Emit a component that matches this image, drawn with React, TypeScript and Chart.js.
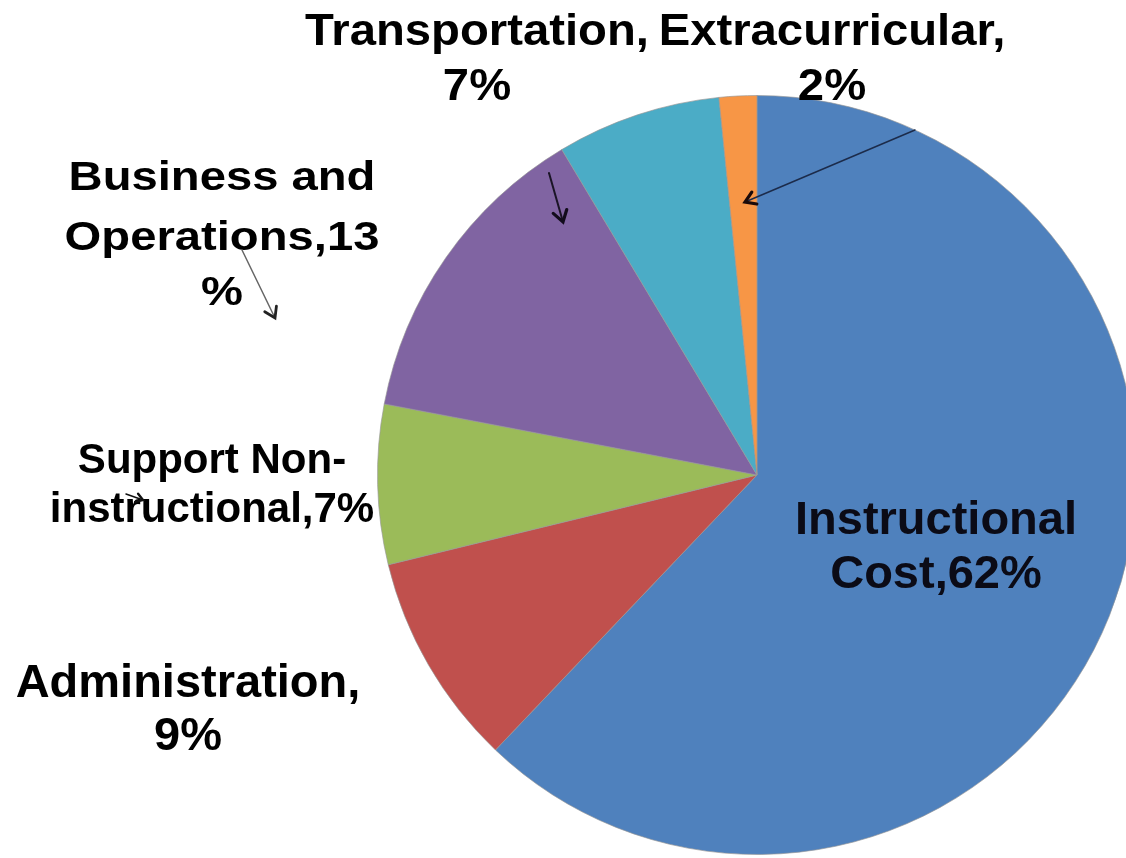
import React, { useEffect, useRef } from "react";
import { Chart, registerables } from "chart.js";

Chart.register(...registerables);

// ---- Data ----
const categories = [
  "Instructional Cost",
  "Administration",
  "Support Non-instructional",
  "Business and Operations",
  "Transportation",
  "Extracurricular",
];
// slice sizes (labels show the rounded percentages)
const shares = [62.1, 9.1, 6.8, 13.4, 7.0, 1.6];
const sliceColors = ["#4F81BD", "#C0504D", "#9BBB59", "#8064A2", "#4BACC6", "#F79646"];

// Label text, line by line (as broken in the original)
const labelLines = [
  ["Instructional", "Cost,62%"],
  ["Administration,", "9%"],
  ["Support Non-", "instructional,7%"],
  ["Business and", "Operations,13", "%"],
  ["Transportation,", "7%"],
  ["Extracurricular,", "2%"],
];

// ---- Layout (decoration only) ----
const labelLayout = [
  { x: 936, ys: [534, 588], size: 47, sx: 1.0, color: "#0b0b16" },
  { x: 188, ys: [697, 750], size: 47, sx: 1.0, color: "#000" },
  { x: 212, ys: [473, 522], size: 42, sx: 1.0, color: "#000" },
  { x: 222, ys: [190, 250, 305], size: 40, sx: 1.18, color: "#000" },
  { x: 477, ys: [45, 100], size: 45, sx: 1.05, color: "#000" },
  { x: 832, ys: [45, 100], size: 45, sx: 1.05, color: "#000" },
];

const arrowLayout = [
  { from: [915, 130], to: [745, 202], color: "#1c2b4a", headColor: "#1a0a0a", width: 1.5, head: 12, headWidth: 3.2 },
  { from: [549, 173], to: [563, 222], color: "#1a1426", headColor: "#120c1c", width: 2, head: 13, headWidth: 3.2 },
  { from: [242, 250], to: [275, 318], color: "#666", headColor: "#222", width: 1.5, head: 12, headWidth: 2.8 },
  { from: [126, 494], to: [143, 500], color: "#111", headColor: "#111", width: 1.5, head: 8, headWidth: 2.4 },
];

const FONT = '"Liberation Sans", Arial, Helvetica, sans-serif';

const annotationPlugin = {
  id: "customLabels",
  afterDraw(chart: any) {
    const ctx = chart.ctx as CanvasRenderingContext2D;
    ctx.save();
    // labels
    labelLines.forEach((lines, i) => {
      const L = labelLayout[i];
      ctx.font = `bold ${L.size}px ${FONT}`;
      ctx.fillStyle = L.color;
      ctx.textAlign = "center";
      ctx.textBaseline = "alphabetic";
      lines.forEach((line, j) => {
        ctx.save();
        ctx.translate(L.x, L.ys[j]);
        ctx.scale(L.sx, 1);
        ctx.fillText(line, 0, 0);
        ctx.restore();
      });
    });
    // arrows
    arrowLayout.forEach((a) => {
      const [x1, y1] = a.from;
      const [x2, y2] = a.to;
      ctx.strokeStyle = a.color;
      ctx.lineWidth = a.width;
      ctx.lineCap = "round";
      ctx.lineJoin = "miter";
      ctx.beginPath();
      ctx.moveTo(x1, y1);
      ctx.lineTo(x2, y2);
      ctx.stroke();
      const ang = Math.atan2(y2 - y1, x2 - x1);
      const spread = Math.PI / 5.5;
      ctx.strokeStyle = a.headColor;
      ctx.lineWidth = a.headWidth;
      ctx.beginPath();
      ctx.moveTo(x2 - a.head * Math.cos(ang - spread), y2 - a.head * Math.sin(ang - spread));
      ctx.lineTo(x2, y2);
      ctx.lineTo(x2 - a.head * Math.cos(ang + spread), y2 - a.head * Math.sin(ang + spread));
      ctx.stroke();
    });
    ctx.restore();
  },
};

export default function App() {
  const canvasRef = useRef<HTMLCanvasElement | null>(null);

  useEffect(() => {
    const canvas = canvasRef.current;
    if (!canvas) return;
    const chart = new Chart(canvas, {
      type: "pie",
      data: {
        labels: categories,
        datasets: [
          {
            data: shares,
            backgroundColor: sliceColors,
            borderColor: "rgba(150,150,150,0.65)",
            borderWidth: 1,
            hoverOffset: 0,
          },
        ],
      },
      options: {
        responsive: false,
        devicePixelRatio: 1,
        animation: false,
        events: [],
        layout: { padding: { left: 377, top: 95, right: 13, bottom: 15 } },
        plugins: {
          legend: { display: false },
          tooltip: { enabled: false },
        },
      },
      plugins: [annotationPlugin],
    });
    return () => chart.destroy();
  }, []);

  return (
    <div
      style={{
        position: "fixed",
        left: 0,
        top: 0,
        width: 1126,
        height: 858,
        overflow: "hidden",
        background: "#fff",
      }}
    >
      <canvas
        ref={canvasRef}
        width={1150}
        height={870}
        style={{ display: "block", width: 1150, height: 870 }}
      />
    </div>
  );
}
